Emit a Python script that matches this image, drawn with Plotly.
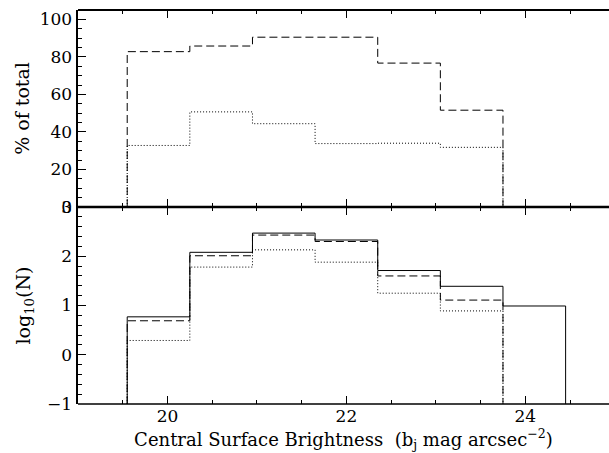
import plotly.graph_objects as go

# Bin edges (central surface brightness, b_j mag arcsec^-2)
edges = [19.55, 20.25, 20.95, 21.65, 22.35, 23.05, 23.75, 24.45]

# Top panel: % of total
pct_dashed = [82.8, 85.8, 90.5, 90.5, 76.7, 51.6]
pct_dotted = [32.8, 50.7, 44.4, 33.8, 34.0, 31.8]

# Bottom panel: log10(N)
logn_solid = [0.77, 2.08, 2.47, 2.33, 1.71, 1.39, 0.99]
logn_dashed = [0.69, 2.01, 2.43, 2.30, 1.60, 1.11]
logn_dotted = [0.29, 1.78, 2.13, 1.88, 1.25, 0.89]

top_ticks = [0, 20, 40, 60, 80, 100]
bot_ticks = [-1, 0, 1, 2, 3]
bot_labels = ["\u22121", "0", "1", "2", "3"]
x_ticks = [20, 22, 24]


def step(values, base):
    n = len(values)
    xs = [edges[0]] + edges[:n] + [edges[n]]
    ys = [base] + list(values) + [base]
    return xs, ys


FONT = "DejaVu Serif"
fig = go.Figure()
for vals, dash, xa, ya, base in [
    (pct_dashed, "8px,4px", "x", "y", 0),
    (pct_dotted, "1px,2px", "x", "y", 0),
    (logn_solid, "solid", "x2", "y2", -1),
    (logn_dashed, "8px,4px", "x2", "y2", -1),
    (logn_dotted, "1px,2px", "x2", "y2", -1),
]:
    xs, ys = step(vals, base)
    fig.add_trace(go.Scatter(x=xs, y=ys, mode="lines", line_shape="hv",
                             line=dict(color="black", width=1, dash=dash),
                             xaxis=xa, yaxis=ya, showlegend=False, hoverinfo="skip"))

xr = [19.0, 24.935]
common_x = dict(range=xr, showgrid=False, zeroline=False, showline=False,
                ticks="inside", ticklen=8, tickwidth=1,
                tickcolor="black", mirror="ticks", tickvals=x_ticks,
                minor=dict(dtick=0.5, tick0=19, ticklen=4, ticks="inside",
                           tickcolor="black", tickwidth=1, showgrid=False))
common_y = dict(showgrid=False, zeroline=False, showline=True, linecolor="black",
                linewidth=2.5, ticks="inside", ticklen=8, tickwidth=1,
                tickcolor="black", mirror=False,
                tickfont=dict(family=FONT, size=17, color="black"))

# frame lines (top, middle, bottom)
frame = [(1.0, 2), (0.5, 2.5), (0.0, 1.5)]
shapes = [dict(type="line", xref="paper", yref="paper", x0=0, x1=1, y0=yv, y1=yv,
               line=dict(color="black", width=w), layer="above") for yv, w in frame]

fig.update_layout(
    width=609, height=453, margin=dict(l=78, r=0, t=6, b=49),
    paper_bgcolor="white", plot_bgcolor="white",
    font=dict(family=FONT, size=17, color="black"),
    shapes=shapes,
    xaxis=dict(**common_x, anchor="y", domain=[0, 1], showticklabels=False),
    xaxis2=dict(**common_x, anchor="y2", domain=[0, 1], matches="x",
                tickfont=dict(family=FONT, size=17, color="black"),
                title=dict(text="Central Surface Brightness  (b<sub>j</sub> mag arcsec<sup>\u22122</sup>)",
                           font=dict(family=FONT, size=18), standoff=7)),
    yaxis=dict(**common_y, domain=[0.5, 1], range=[0, 105], tickvals=top_ticks,
               minor=dict(dtick=5, ticklen=4, ticks="inside", tickcolor="black", showgrid=False),
               title=dict(text="% of total", font=dict(family=FONT, size=19), standoff=5)),
    yaxis2=dict(**common_y, domain=[0, 0.5], range=[-1, 3], tickvals=bot_ticks, ticktext=bot_labels,
                minor=dict(dtick=0.2, tick0=-1, ticklen=4, ticks="inside", tickcolor="black", showgrid=False),
                title=dict(text="log<sub>10</sub>(N)", font=dict(family=FONT, size=19), standoff=12)),
)
fig.write_html("out.html", config={"staticPlot": True})
